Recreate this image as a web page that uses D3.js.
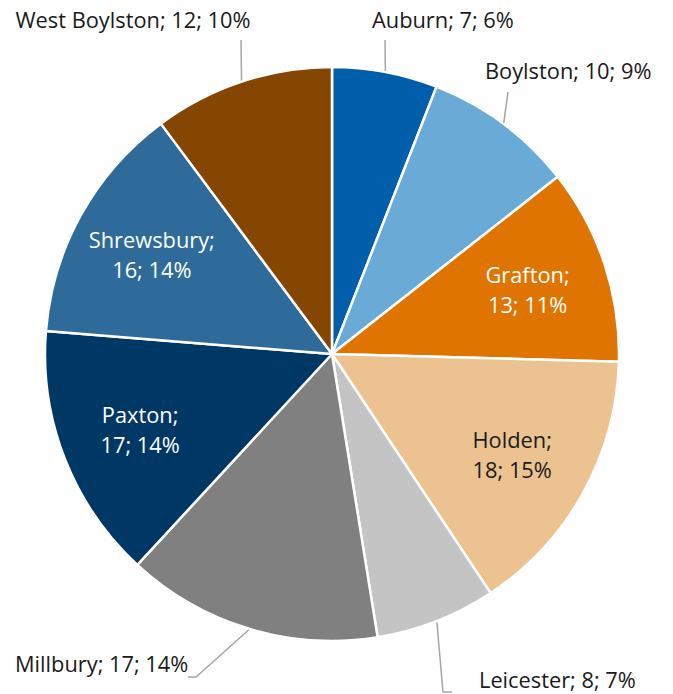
<!DOCTYPE html>
<html><head><meta charset="utf-8">
<script src="https://cdn.jsdelivr.net/npm/d3@7"></script>
<style>body{margin:0;background:#fff}svg{display:block}text{font-family:"Open Sans",sans-serif}</style>
</head><body>
<svg id="c" width="673" height="694"></svg>
<script>
const categories = ["Auburn","Boylston","Grafton","Holden","Leicester","Millbury","Paxton","Shrewsbury","West Boylston"];
const values = [7,10,13,18,8,17,17,16,12];
const percents = ["6%","9%","11%","15%","7%","14%","14%","14%","10%"];
const colors = ["#005EAB","#6AAAD6","#E07400","#ECC291","#C4C4C4","#808080","#003865","#2E6B9A","#844600"];
const insideLabels = ["Grafton","Holden","Paxton","Shrewsbury"];

// layout for outside labels: text anchor position and leader path end points
const outside = {
  "West Boylston": {tx:133, ty:28, anchor:"middle", pts:[[241,40]]},
  "Auburn": {tx:372, ty:28, anchor:"start", pts:[[385,40]]},
  "Boylston": {tx:485, ty:79, anchor:"start", pts:[[508,92]]},
  "Millbury": {tx:15, ty:672, anchor:"start", pts:[[196,677],[188,677]]},
  "Leicester": {tx:479, ty:688, anchor:"start", pts:[[443,692],[452,692]]}
};
const FS = 21.8;

const svg = d3.select("#c");
const cx = 332, cy = 354, r = 287;
const g = svg.append("g").attr("transform",`translate(${cx},${cy})`);
const data = categories.map((c,i)=>({name:c,value:values[i],pct:percents[i],color:colors[i]}));
const pie = d3.pie().sort(null).value(d=>d.value);
const arcs = pie(data);
const arc = d3.arc().innerRadius(0).outerRadius(r);
g.selectAll("path.s").data(arcs).join("path").attr("class","s")
  .attr("d",arc).attr("fill",d=>d.data.color).attr("stroke","#fff").attr("stroke-width",2.5).attr("stroke-linejoin","round");

const labArc = d3.arc().innerRadius(206).outerRadius(206);
arcs.filter(a=>insideLabels.includes(a.data.name)).forEach(a=>{
  const [x,y] = labArc.centroid(a);
  const fill = a.data.name==="Holden" ? "#1a1a1a" : "#fff";
  const t = g.append("text").attr("text-anchor","middle").attr("font-size",FS).attr("fill",fill);
  t.append("tspan").attr("x",x).attr("y",y-6).text(a.data.name+";");
  t.append("tspan").attr("x",x).attr("y",y+24).text(a.data.value+"; "+a.data.pct);
});

arcs.filter(a=>outside[a.data.name]).forEach(a=>{
  const o = outside[a.data.name];
  const ang = (a.startAngle+a.endAngle)/2;
  const sx = cx + (r+1)*Math.sin(ang), sy = cy - (r+1)*Math.cos(ang);
  const pts = [[sx,sy]].concat(o.pts);
  svg.append("path").attr("d",d3.line()(pts)).attr("fill","none").attr("stroke","#a6a6a6").attr("stroke-width",1.5);
  svg.append("text").attr("x",o.tx).attr("y",o.ty).attr("text-anchor",o.anchor).attr("font-size",FS).attr("fill","#1a1a1a")
    .text(a.data.name+"; "+a.data.value+"; "+a.data.pct);
});
</script>
</body></html>
